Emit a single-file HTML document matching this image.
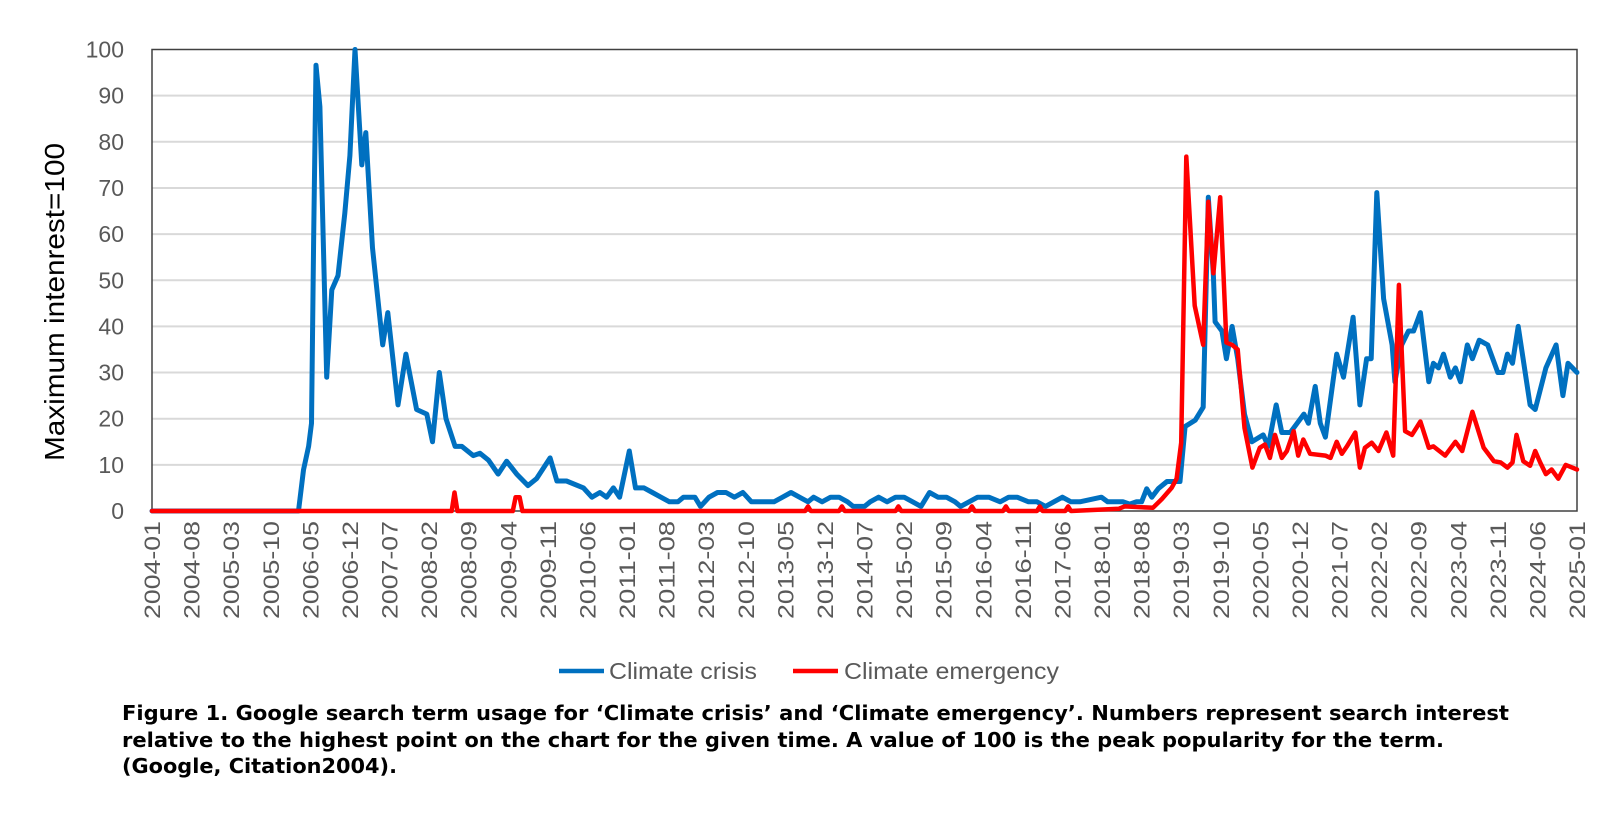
<!DOCTYPE html>
<html><head><meta charset="utf-8"><style>
html,body{margin:0;padding:0;background:#fff;}
svg{display:block;}
</style></head><body>
<svg id="c" width="1619" height="834" viewBox="0 0 1619 834" xmlns="http://www.w3.org/2000/svg">
<rect x="0" y="0" width="1619" height="834" fill="#fff"/>
<g id="grid" stroke="#d9d9d9" stroke-width="2"></g>
<rect x="152" y="49.5" width="1425" height="461.5" fill="none" stroke="#404040" stroke-width="1.5"/>
<g id="ylab" font-family="Liberation Sans, sans-serif" font-size="23" fill="#595959" text-anchor="end"></g>
<g id="xlab" font-family="Liberation Sans, sans-serif" font-size="22" fill="#595959" text-anchor="end"></g>
<text transform="translate(64,302) rotate(-90)" text-anchor="middle" font-family="Liberation Sans, sans-serif" font-size="28" fill="#000" textLength="318" lengthAdjust="spacingAndGlyphs">Maximum intenrest=100</text>
<polyline id="blue" fill="none" stroke="#0070c0" stroke-width="5" stroke-linejoin="round" stroke-linecap="round"/>
<polyline id="red" fill="none" stroke="#ff0000" stroke-width="4.5" stroke-linejoin="round" stroke-linecap="round"/>
<line x1="559" y1="671" x2="604" y2="671" stroke="#0070c0" stroke-width="4.5"/>
<text x="609" y="679" font-family="Liberation Sans, sans-serif" font-size="23" fill="#595959" textLength="148" lengthAdjust="spacingAndGlyphs">Climate crisis</text>
<line x1="793" y1="671" x2="838" y2="671" stroke="#ff0000" stroke-width="4.5"/>
<text x="844" y="679" font-family="Liberation Sans, sans-serif" font-size="23" fill="#595959" textLength="215" lengthAdjust="spacingAndGlyphs">Climate emergency</text>
<g font-family="DejaVu Sans, sans-serif" font-weight="bold" font-size="20" fill="#000">
<text x="122" y="720" textLength="1387" lengthAdjust="spacingAndGlyphs">Figure 1. Google search term usage for ‘Climate crisis’ and ‘Climate emergency’. Numbers represent search interest</text>
<text x="122" y="747" textLength="1322" lengthAdjust="spacingAndGlyphs">relative to the highest point on the chart for the given time. A value of 100 is the peak popularity for the term.</text>
<text x="122" y="773" textLength="275" lengthAdjust="spacingAndGlyphs">(Google, Citation2004).</text>
</g>
</svg>
<script>
var NS="http://www.w3.org/2000/svg";
var X0=152,MW=1425/252,Y0=511,U=4.615;
function X(i){return X0+i*MW;}function Y(v){return Y0-v*U;}
var g=document.getElementById('grid'),yl=document.getElementById('ylab'),xl=document.getElementById('xlab');
for(var k=0;k<=10;k++){var y=Y(k*10);
 if(k>0&&k<10){var l=document.createElementNS(NS,'line');l.setAttribute('x1',X0);l.setAttribute('x2',1577);l.setAttribute('y1',y);l.setAttribute('y2',y);g.appendChild(l);}
 var t=document.createElementNS(NS,'text');t.setAttribute('x',124);t.setAttribute('y',y+8);t.textContent=k*10;yl.appendChild(t);}
for(var m=0;m<=252;m+=7){var yr=2004+Math.floor(m/12),mo=m%12+1;
 var t=document.createElementNS(NS,'text');var x=X(m)+8;
 t.setAttribute('transform','translate('+x+',521) rotate(-90)');t.setAttribute('textLength','98');t.setAttribute('lengthAdjust','spacingAndGlyphs');t.textContent=yr+'-'+(mo<10?'0':'')+mo;xl.appendChild(t);}
var blue=[[0,0],[25.9,0],[26.8,8.9],[27.7,14],[28.2,19],[28.6,60],[29,96.6],[29.7,87.6],[30.9,29],[31.8,47.9],[32.9,51],[34.1,64.5],[35,77],[35.9,100],[37.1,75],[37.8,82],[39,57],[40.8,36],[41.7,43],[43.5,23],[44.9,34],[46.8,22],[48.6,21],[49.6,15],[50.8,30],[52,20],[53.6,14],[54.8,14],[56.8,12],[58,12.5],[59.5,11],[61.2,8],[62.7,10.8],[64.5,8],[66.5,5.5],[68,7],[70.4,11.5],[71.6,6.5],[73.3,6.5],[76.3,5],[77.8,3],[79.2,4],[80.4,3],[81.6,5],[82.7,3],[84.4,13],[85.5,5],[87,5],[88.5,4],[90,3],[91.5,2],[93,2],[94,3],[96,3],[97,1],[98.5,3],[100,4],[101.5,4],[103,3],[104.5,4],[106,2],[108,2],[110,2],[111.5,3],[113,4],[114.5,3],[116,2],[117,3],[118.5,2],[120,3],[121.5,3],[123,2],[124,1],[126,1],[127,2],[128.5,3],[130,2],[131.5,3],[133,3],[134.5,2],[136,1],[137.5,4],[139,3],[140.5,3],[142,2],[143,1],[144.5,2],[146,3],[148,3],[150,2],[151.5,3],[153,3],[155,2],[156.5,2],[158,1],[159.5,2],[161,3],[162.5,2],[164.1,2],[167.9,3],[169,2],[171.7,2],[172.9,1.5],[174.1,2],[175,2],[175.9,4.8],[176.8,3],[178,4.9],[179.5,6.4],[181.8,6.4],[182.7,18.3],[184.5,19.7],[185.9,22.5],[186.8,68],[187.7,51],[188,41],[189.2,39],[190,33],[191,40],[192,33],[193.2,21],[194.5,15],[196.5,16.5],[197.4,14],[198.8,23],[199.8,17],[201.3,17],[202.5,19],[203.7,21],[204.5,19],[205.7,27],[206.6,19],[207.5,16],[209.5,34],[210.7,29],[212.4,42],[213.6,23],[214.8,33],[215.6,33],[216.6,69],[217.8,46],[219.3,36],[219.8,28],[221,36],[222.2,39],[223.1,39],[224.3,43],[225.8,28],[226.6,32],[227.5,31],[228.4,34],[229.6,29],[230.5,31],[231.4,28],[232.6,36],[233.5,33],[234.7,37],[236.2,36],[238,30],[238.9,30],[239.7,34],[240.6,32],[241.6,40],[243.7,23],[244.6,22],[246.5,31],[248.3,36],[249.5,25],[250.4,32],[252,30]];
var red=[[0,0],[53,0],[53.5,4],[54,0],[63.8,0],[64.3,3],[65,3],[65.5,0],[115.5,0],[116,1],[116.5,0],[121.5,0],[122,1],[122.5,0],[131.5,0],[132,1],[132.5,0],[144.5,0],[145,1],[145.5,0],[150.5,0],[151,1],[151.5,0],[156.5,0],[157,1],[157.5,0],[161.5,0],[162,1],[162.5,0],[171,0.5],[172,1],[177,0.7],[178.6,2.6],[180.3,5],[181.2,7],[182,14.8],[182.9,76.8],[184.4,44.5],[185.9,36],[186.8,67],[187.7,51.5],[188.9,68],[190,36.5],[191,36],[192,35],[193.2,18],[194.6,9.4],[195.9,13.7],[196.8,14.4],[197.7,11.5],[198.6,16.5],[199.8,11.5],[200.7,13],[201.9,17.3],[202.7,12],[203.6,15.5],[204.8,12.4],[207.5,12],[208.4,11.5],[209.5,15],[210.4,12.4],[211.3,14],[212.8,17],[213.6,9.4],[214.5,13.7],[215.7,14.8],[216.9,13],[218.3,17],[219.5,12],[220.5,49],[221.6,17.3],[222.8,16.5],[224.3,19.4],[225.8,13.7],[226.6,14],[228.7,12],[230.5,15],[231.7,13],[233.5,21.5],[235.5,13.7],[237.3,10.8],[238.5,10.5],[239.7,9.4],[240.6,10.5],[241.3,16.5],[242.5,10.8],[243.7,9.8],[244.6,13],[245.5,10.5],[246.5,8],[247.5,9],[248.7,7],[250,10],[251,9.5],[252,9]];
function pts(a){return a.map(function(p){return X(p[0]).toFixed(1)+','+Y(p[1]).toFixed(1);}).join(' ');}
document.getElementById('blue').setAttribute('points',pts(blue));
document.getElementById('red').setAttribute('points',pts(red));
</script>
</body></html>
